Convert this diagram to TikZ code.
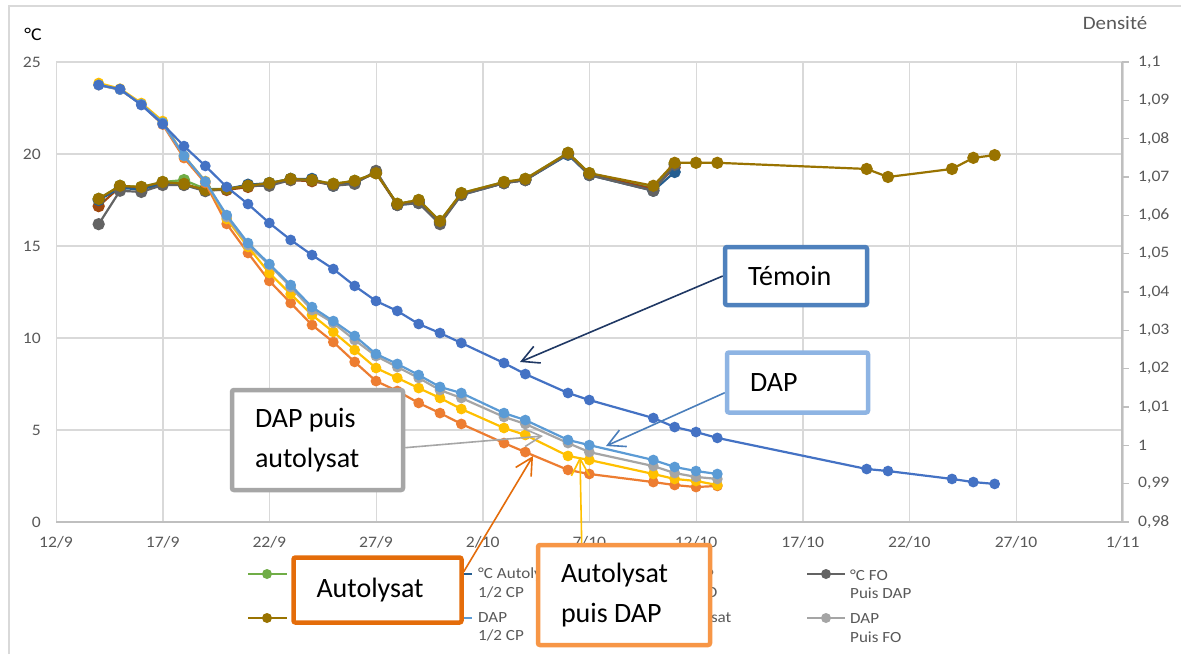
\documentclass[tikz,border=0pt]{standalone}
\usepackage{fontspec}
\setmainfont{Carlito}
\newfontfamily\chartfont[FakeStretch=1.1]{Carlito}
\usetikzlibrary{arrows.meta}

% chart palette
\definecolor{gridgrey}{HTML}{D9D9D9}
\definecolor{axisgrey}{HTML}{BFBFBF}
\definecolor{labelgrey}{HTML}{595959}
\definecolor{temoin}{HTML}{4472C4}
\definecolor{dapblue}{HTML}{5B9BD5}
\definecolor{dapgrey}{HTML}{A5A5A5}
\definecolor{autoyellow}{HTML}{FFC000}
\definecolor{autoorange}{HTML}{ED7D31}
\definecolor{densbrown}{HTML}{997300}
\definecolor{densgrey}{HTML}{636363}
\definecolor{densblue}{HTML}{255E91}
\definecolor{densorange}{HTML}{9E480E}
\definecolor{densgreen}{HTML}{70AD47}
% callouts
\definecolor{boxtemoin}{RGB}{79,129,189}
\definecolor{boxdap}{RGB}{142,180,227}
\definecolor{boxdapauto}{HTML}{A6A6A6}
\definecolor{boxauto}{RGB}{228,108,10}
\definecolor{boxautodap}{HTML}{F79646}
\definecolor{arrtemoin}{RGB}{31,56,100}
\definecolor{arrdap}{RGB}{74,126,187}

\pgfdeclarelayer{chart}
\pgfdeclarelayer{pointers}
\pgfsetlayers{chart,pointers,main}

\tikzset{
  tempserie/.style={line width=2.2pt, color=#1, mark=*, mark size=4.2pt,
    mark options={fill=#1, draw=#1}},
  densserie/.style={line width=2.2pt, color=#1, mark=*, mark size=5pt,
    mark options={fill=#1, draw=#1}},
  ticklabel/.style={font=\chartfont\fontsize{16}{18.5}\selectfont, text=labelgrey, inner sep=0pt},
  legtext/.style={font=\chartfont\fontsize{15.5}{18.5}\selectfont, text=labelgrey, inner sep=0pt, align=flush left, anchor=west},
  legline/.style={line width=2.2pt, color=#1},
  callout/.style={draw=#1, line width=4.5pt, fill=white, rounded corners=2pt,
    font=\fontsize{28}{40}\selectfont, text=black, align=flush left,
    inner xsep=23pt, inner ysep=0pt},
  pointer/.style={draw=#1, line width=1.6pt, -{Straight Barb[length=17pt, width=18pt]}},
}

\begin{document}
\begin{tikzpicture}[x=1pt, y=-1pt]
\useasboundingbox (0,0) rectangle (1181,654);

\begin{pgfonlayer}{chart}
\fill[white] (0,0) rectangle (1181,654);

% chart frame
\draw[gridgrey, line width=1.5pt] (9,654) -- (9,6) -- (1181,6);

% grid
\foreach \k in {0,...,10}
  \draw[gridgrey, line width=1.2pt] ({56.3+106.667*\k},62) -- ({56.3+106.667*\k},522);
\foreach \k in {0,...,4}
  \draw[gridgrey, line width=1.2pt] (56,{62+92*\k}) -- (1122,{62+92*\k});
\draw[axisgrey, line width=1.3pt] (56,522) -- (1122,522);
\draw[axisgrey, line width=1.3pt] (1122,62) -- (1122,522);

% left axis (temperature)
\foreach \v [count=\i from 0] in {0,5,10,15,20,25}
  \node[ticklabel, anchor=east] (yl\i) at (41,{522-92*\i}) {\v};
\node[font=\chartfont\fontsize{18}{20}\selectfont, text=black, inner sep=0pt] (unitC) at (33,34) {°C};

% right axis (density)
\foreach \v [count=\i from 0] in {0{,}98,0{,}99,1,1{,}01,1{,}02,1{,}03,1{,}04,1{,}05,1{,}06,1{,}07,1{,}08,1{,}09,1{,}1}{
  \draw[axisgrey, line width=1.2pt] (1122,{522-38.333*\i}) -- (1129,{522-38.333*\i});
  \node[ticklabel, anchor=west] (dl\i) at (1138,{522-38.333*\i}) {\v};
}
\node[font=\chartfont\fontsize{19}{22}\selectfont, text=labelgrey, inner sep=0pt] (unitD) at (1115,23) {Densité};

% date axis
\foreach \d [count=\i from 0] in {12/9,17/9,22/9,27/9,2/10,7/10,12/10,17/10,22/10,27/10,1/11}
  \node[ticklabel] (xl\i) at ({56+106.667*\i},542) {\d};

% density curves (right axis)
\begin{scope}[shift={(56,522)}, x=21.3333pt, y=3833.33pt, shift={(0,-0.98)}]
  \draw[densserie=densgreen] plot coordinates {(2,1.0643) (3,1.0677) (4,1.0674) (5,1.0687) (6,1.0692) (7,1.0669) (8,1.0669) (9,1.0677) (10,1.0684) (11,1.0695) (12,1.0692) (13,1.0682) (14,1.0690) (15,1.0710) (16,1.0630) (17,1.0640) (18,1.0585) (19,1.0658) (21,1.0687) (22,1.0695) (24,1.0763) (25,1.0710) (28,1.0672) (29,1.0735)};
  \draw[densserie=densorange] plot coordinates {(2,1.0624) (3,1.0674) (4,1.0671) (5,1.0684) (6,1.0680) (7,1.0666) (8,1.0666) (9,1.0674) (10,1.0681) (11,1.0692) (12,1.0689) (13,1.0679) (14,1.0687) (15,1.0710) (16,1.0627) (17,1.0635) (18,1.0582) (19,1.0655) (21,1.0684) (22,1.0692) (24,1.0760) (25,1.0707) (28,1.0669) (29,1.0725)};
  \draw[densserie=densblue] plot coordinates {(2,1.0640) (3,1.0671) (4,1.0668) (5,1.0682) (6,1.0680) (7,1.0666) (8,1.0669) (9,1.0680) (10,1.0684) (11,1.0695) (12,1.0695) (13,1.0677) (14,1.0684) (15,1.0713) (16,1.0627) (17,1.0632) (18,1.0580) (19,1.0653) (21,1.0684) (22,1.0692) (24,1.0758) (25,1.0705) (28,1.0664) (29,1.0713)};
  \draw[densserie=densgrey] plot coordinates {(2,1.0577) (3,1.0664) (4,1.0661) (5,1.0679) (6,1.0679) (7,1.0663) (8,1.0669) (9,1.0677) (10,1.0677) (11,1.0692) (12,1.0692) (13,1.0677) (14,1.0682) (15,1.0716) (16,1.0627) (17,1.0632) (18,1.0577) (19,1.0653) (21,1.0684) (22,1.0692) (24,1.0760) (25,1.0705) (28,1.0664) (29,1.0732)};
  \draw[densserie=densbrown] plot coordinates {(2,1.0643) (3,1.0677) (4,1.0674) (5,1.0687) (6,1.0682) (7,1.0666) (8,1.0669) (9,1.0677) (10,1.0684) (11,1.0695) (12,1.0692) (13,1.0682) (14,1.0690) (15,1.0710) (16,1.0630) (17,1.0640) (18,1.0585) (19,1.0658) (21,1.0687) (22,1.0695) (24,1.0763) (25,1.0710) (28,1.0677) (29,1.0737) (30,1.0737) (31,1.0737) (38,1.0721) (39,1.0700) (42,1.0721) (43,1.0750) (44,1.0757)};
\end{scope}

% temperature curves (left axis)
\begin{scope}[shift={(56,522)}, x=21.3333pt, y=18.4pt]
  \draw[tempserie=autoorange] plot coordinates {(2,23.75) (3,23.50) (4,22.70) (5,21.60) (6,19.78) (7,18.42) (8,16.20) (9,14.62) (10,13.10) (11,11.90) (12,10.71) (13,9.78) (14,8.70) (15,7.66) (16,7.12) (17,6.47) (18,5.92) (19,5.33) (21,4.29) (22,3.80) (24,2.83) (25,2.61) (28,2.17) (29,2.01) (30,1.90) (31,1.96)};
  \draw[tempserie=autoyellow] plot coordinates {(2,23.86) (3,23.55) (4,22.77) (5,21.79) (6,19.89) (7,18.53) (8,16.47) (9,14.95) (10,13.53) (11,12.39) (12,11.25) (13,10.33) (14,9.35) (15,8.37) (16,7.83) (17,7.28) (18,6.74) (19,6.14) (21,5.11) (22,4.73) (24,3.59) (25,3.37) (28,2.61) (29,2.34) (30,2.23) (31,2.01)};
  \draw[tempserie=dapgrey] plot coordinates {(2,23.75) (3,23.50) (4,22.70) (5,21.65) (6,19.90) (7,18.50) (8,16.58) (9,15.05) (10,13.97) (11,12.77) (12,11.52) (13,10.82) (14,9.89) (15,9.02) (16,8.42) (17,7.83) (18,7.17) (19,6.74) (21,5.71) (22,5.33) (24,4.29) (25,3.80) (28,3.04) (29,2.66) (30,2.45) (31,2.34)};
  \draw[tempserie=dapblue] plot coordinates {(2,23.75) (3,23.50) (4,22.70) (5,21.70) (6,19.90) (7,18.50) (8,16.68) (9,15.16) (10,14.02) (11,12.88) (12,11.68) (13,10.92) (14,10.11) (15,9.13) (16,8.59) (17,7.99) (18,7.34) (19,7.01) (21,5.92) (22,5.54) (24,4.46) (25,4.18) (28,3.37) (29,2.99) (30,2.77) (31,2.61)};
  \draw[tempserie=temoin] plot coordinates {(2,23.75) (3,23.53) (4,22.66) (5,21.63) (6,20.43) (7,19.35) (8,18.21) (9,17.28) (10,16.25) (11,15.33) (12,14.51) (13,13.75) (14,12.83) (15,12.01) (16,11.47) (17,10.76) (18,10.27) (19,9.73) (21,8.64) (22,8.04) (24,7.01) (25,6.63) (28,5.65) (29,5.16) (30,4.89) (31,4.57) (38,2.88) (39,2.77) (42,2.34) (43,2.17) (44,2.07)};
\end{scope}

% legend
\draw[legline=densgreen] (248,574) -- (287,574);
\fill[densgreen] (267,574) circle[radius=5pt];
\draw[legline=densbrown] (248,618) -- (287,618);
\fill[densbrown] (267,618) circle[radius=5pt];
\draw[legline=densblue] (434,574) -- (472,574);
\draw[legline=dapblue] (434,618) -- (472,618);
\node[legtext] (lg2a) at (478,583) {°C Autolysat\\1/2 CP};
\node[legtext] (lg2b) at (478,627) {DAP\\1/2 CP};
\node[legtext] (lg3a) at (666,583) {°C DAP\\Puis FO};
\node[legtext] (lg3b) at (666,618) {Autolysat};
\draw[legline=densgrey] (807,574) -- (845,574);
\fill[densgrey] (826,574) circle[radius=5pt];
\draw[legline=dapgrey] (807,618) -- (845,618);
\fill[dapgrey] (826,618) circle[radius=5pt];
\node[legtext] (lg4a) at (850,584) {°C FO\\Puis DAP};
\node[legtext] (lg4b) at (850,628) {DAP\\Puis FO};
\end{pgfonlayer}

% pointer targets on the curves
\coordinate (tTemoin) at (520,362);
\coordinate (tDap) at (606,446);
\coordinate (tDapAuto) at (543,436);
\coordinate (tAuto) at (533,456);
\coordinate (tAutoDap) at (580,457);

% callout boxes
\node[callout=boxtemoin, text width=96pt, minimum height=58pt] (cTemoin) at (796,276) {Témoin};
\node[callout=boxdap, text width=95pt, minimum height=60pt] (cDap) at (797.5,382.5) {DAP};
\node[callout=boxdapauto, text width=125pt, minimum height=100pt] (cDapAuto) at (317.5,440) {DAP puis\\autolysat};
\node[callout=boxauto, text width=122pt, minimum height=65pt] (cAuto) at (377.5,590) {Autolysat};
\node[callout=boxautodap, text width=126pt, minimum height=100pt] (cAutoDap) at (624,595) {Autolysat\\puis DAP};

% pointers, drawn beneath the boxes
\begin{pgfonlayer}{pointers}
\draw[pointer=arrtemoin] (cTemoin.west) -- (tTemoin);
\draw[pointer=arrdap] (cDap.188) -- (tDap);
\draw[pointer=boxdapauto] (cDapAuto.355) -- (tDapAuto);
\draw[pointer=boxauto] (cAuto.12) -- (tAuto);
\draw[pointer=autoyellow] (cAutoDap.129) -- (tAutoDap);
\end{pgfonlayer}
\end{tikzpicture}
\end{document}
